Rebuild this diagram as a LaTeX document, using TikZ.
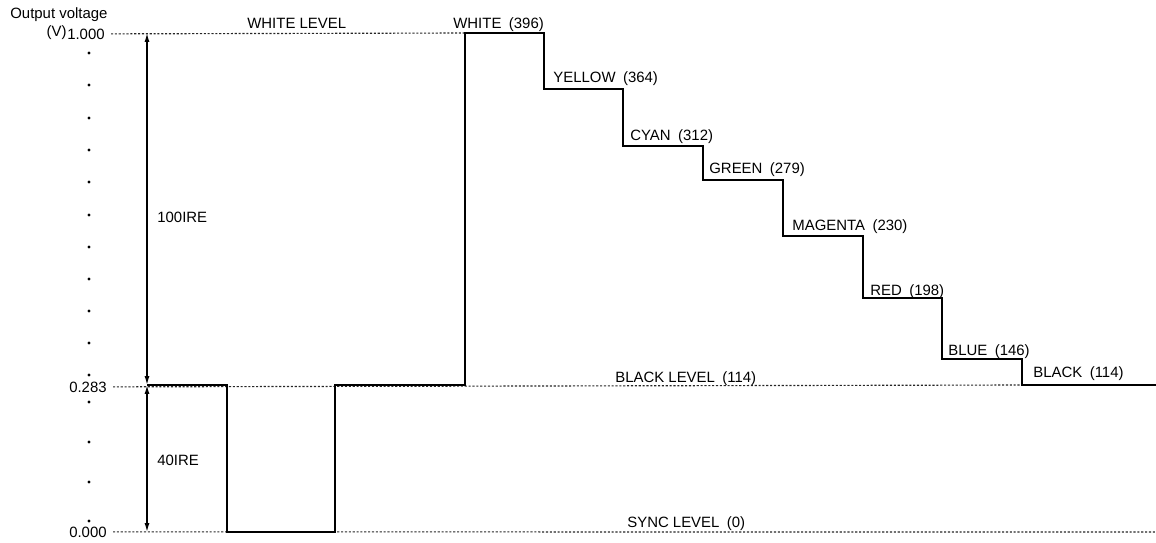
\documentclass[tikz,border=0pt]{standalone}
\usepackage{fontspec}
\setmainfont{Liberation Sans}
\usepackage{tikz}
\usetikzlibrary{arrows.meta}

\tikzset{
  lvl/.style={black!85, line width=0.65pt, dash pattern=on 1.2pt off 1pt},
  wave/.style={black, line width=1.3pt, line join=miter},
  dim/.style={black, line width=0.8pt, {Latex[length=5pt,width=2.8pt]}-{Latex[length=5pt,width=2.8pt]}},
  lbl/.style={inner sep=0pt, font=\fontsize{8.5}{10}\selectfont}
}

\begin{document}
\begin{tikzpicture}[x=0.02cm, y=-0.02cm]
        \useasboundingbox (0,0) rectangle (1156,542);

        %SUMBU
        \node[lbl, anchor=base west] (ylabel) at (10,18) {Output voltage};
        \node[lbl, anchor=base east] (vtop) at (105,39) {1.000};
        \node[lbl, anchor=base east] (unit) at (vtop.base west) [yshift=1.5pt] {(V)};
        \node[lbl, anchor=base east] (vblk) at (107,392) {0.283};
        \node[lbl, anchor=base east] (vsnc) at (107,537) {0.000};
        \fill (89,53) circle[radius=0.9pt] (89,85) circle[radius=0.9pt] (89,118) circle[radius=0.9pt]
              (89,150) circle[radius=0.9pt] (89,182) circle[radius=0.9pt] (89,215) circle[radius=0.9pt]
              (89,247) circle[radius=0.9pt] (89,279) circle[radius=0.9pt] (89,311) circle[radius=0.9pt]
              (89,343) circle[radius=0.9pt] (89,375) circle[radius=0.9pt] (89,402) circle[radius=0.9pt]
              (89,442) circle[radius=0.9pt] (89,482) circle[radius=0.9pt] (89,521) circle[radius=0.9pt];

        %GARIS LEVEL
        \draw[lvl] (vtop.east) ++(6,0) -- (465,33);
        \draw[lvl] (vblk.east) ++(6,0) -- (1022,385);
        \draw[lvl] (vsnc.east) ++(6,0) -- (1156,532);

        %PANAH IRE
        \coordinate (top) at (147,33);
        \coordinate (blk) at (147,385);
        \coordinate (snc) at (147,532);
        \draw[dim] (blk) -- (top);
        \draw[dim] (snc) -- (blk);
        \node[lbl, anchor=base west] (ire100) at (157,222) {100IRE};
        \node[lbl, anchor=base west] (ire40) at (157,465) {40IRE};

        %SINYAL
        \draw[wave] (blk) -- (227,385) -- (227,532) -- (335,532) -- (335,385) -- (465,385)
              -- (465,33) -- (544,33) -- (544,89) -- (623,89) -- (623,146) -- (703,146)
              -- (703,180) -- (783,180) -- (783,236) -- (863,236) -- (863,298) -- (942,298)
              -- (942,359) -- (1022,359) -- (1022,385) -- (1156,385);

        %LABEL
        \node[lbl, anchor=base west] (whitelvl) at (247,28) {WHITE LEVEL};
        \node[lbl, anchor=base west] (white) at (453,28) {WHITE\enspace(396)};
        \node[lbl, anchor=base west] (yellow) at (553,82) {YELLOW\enspace(364)};
        \node[lbl, anchor=base west] (cyan) at (630,140) {CYAN\enspace(312)};
        \node[lbl, anchor=base west] (green) at (709,173) {GREEN\enspace(279)};
        \node[lbl, anchor=base west] (magenta) at (792,230) {MAGENTA\enspace(230)};
        \node[lbl, anchor=base west] (red) at (870,295) {RED\enspace(198)};
        \node[lbl, anchor=base west] (blue) at (948,355) {BLUE\enspace(146)};
        \node[lbl, anchor=base west] (black) at (1033,377) {BLACK\enspace(114)};
        \node[lbl, anchor=base west] (blacklvl) at (615,382) {BLACK LEVEL\enspace(114)};
        \node[lbl, anchor=base west] (synclvl) at (627,527) {SYNC LEVEL\enspace(0)};
    \end{tikzpicture}
\end{document}
